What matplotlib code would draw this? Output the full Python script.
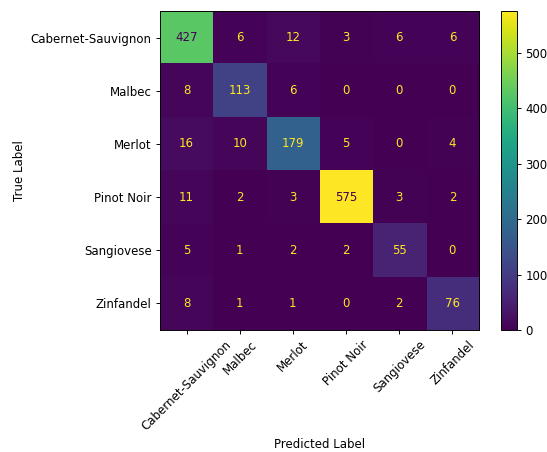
import matplotlib
matplotlib.use("Agg")
import matplotlib.pyplot as plt
import numpy as np

labels = ["Cabernet-Sauvignon", "Malbec", "Merlot", "Pinot Noir", "Sangiovese", "Zinfandel"]
row_cab = [427, 6, 12, 3, 6, 6]
row_malbec = [8, 113, 6, 0, 0, 0]
row_merlot = [16, 10, 179, 5, 0, 4]
row_pinot = [11, 2, 3, 575, 3, 2]
row_sangio = [5, 1, 2, 2, 55, 0]
row_zin = [8, 1, 1, 0, 2, 76]

cm = np.array([row_cab, row_malbec, row_merlot, row_pinot, row_sangio, row_zin])

DPI = 85
fig = plt.figure(figsize=(547 / DPI, 452 / DPI), dpi=DPI)
ax = fig.add_axes([0.2907, 0.2699, 0.5868, 0.7058])
cax = fig.add_axes([0.9159, 0.2699, 0.0293, 0.7058])

cmap = plt.get_cmap("viridis")
im = ax.imshow(cm, interpolation="nearest", cmap=cmap)
fig.colorbar(im, cax=cax)

cmin, cmax = cmap(0), cmap(1.0)
thresh = (cm.max() + cm.min()) / 2.0
n = len(labels)
for i in range(n):
    for j in range(n):
        color = cmin if cm[i, j] > thresh else cmax
        ax.text(j, i, str(cm[i, j]), ha="center", va="center", color=color)

ax.set_xticks(np.arange(n))
ax.set_yticks(np.arange(n))
ax.set_xticklabels(labels, rotation=45, ha="center")
ax.set_yticklabels(labels)
ax.set_xlabel("Predicted Label")
ax.set_ylabel("True Label")
ax.set_ylim(n - 0.5, -0.5)

fig.savefig("out.png", dpi=DPI)
